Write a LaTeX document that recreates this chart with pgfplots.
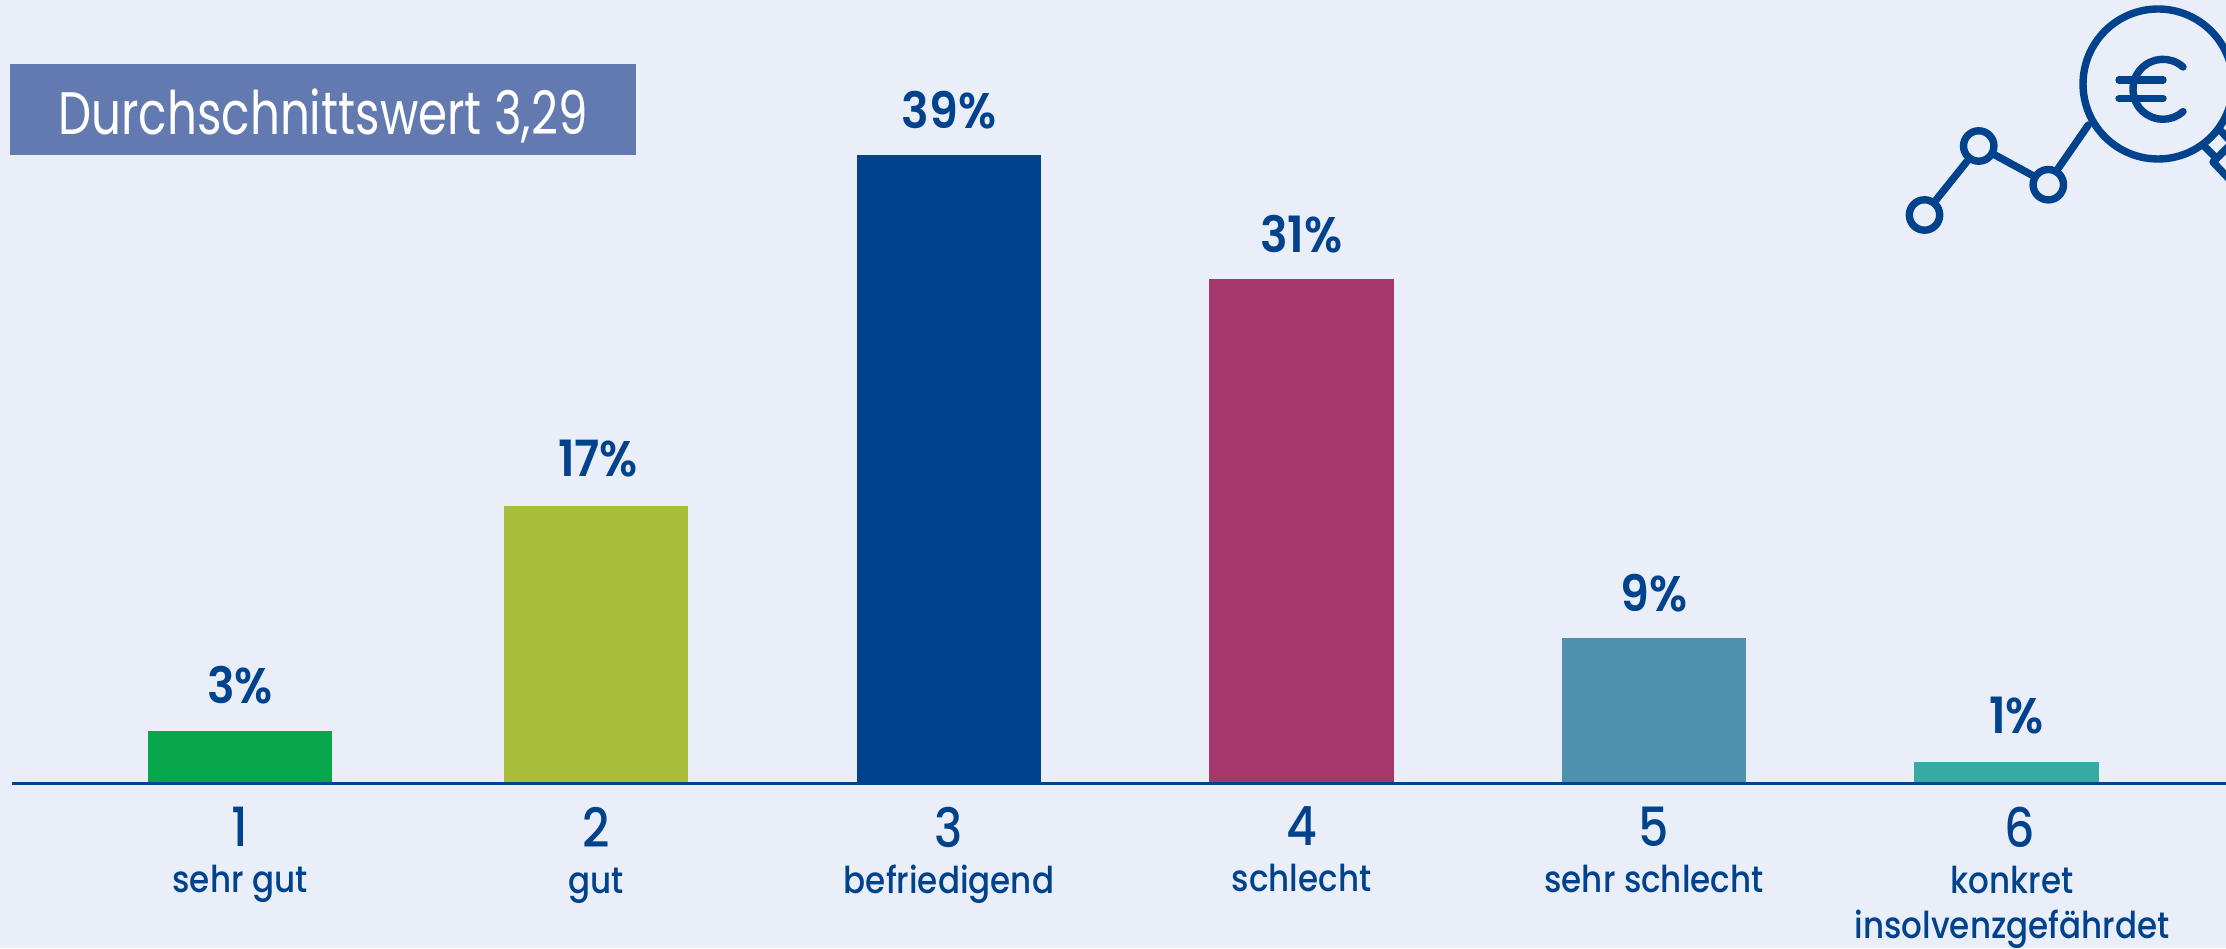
\documentclass[border=0pt]{standalone}
\usepackage{pgfplots}
\pgfplotsset{compat=1.18}
\usepackage{fontspec}
\setmainfont{Poppins}[FakeStretch=0.78]
\newfontfamily\medf{Poppins Medium}[FakeStretch=0.88]
\newfontfamily\semif{Poppins SemiBold}[FakeStretch=0.92]
\definecolor{bg}{HTML}{E9EEF8}
\definecolor{navy}{HTML}{00438C}
\definecolor{boxc}{HTML}{637AB0}
\definecolor{c1}{HTML}{07A64A}
\definecolor{c2}{HTML}{A8BE3A}
\definecolor{c3}{HTML}{00438C}
\definecolor{c4}{HTML}{A4386D}
\definecolor{c5}{HTML}{4F8FAF}
\definecolor{c6}{HTML}{38AAA6}
\newcommand{\dg}[1]{{\fontsize{27}{27}\selectfont #1}}
\begin{document}
\begin{tikzpicture}
\path[use as bounding box,fill=bg] (0,0) rectangle (1113pt,474pt);
\clip (0,0) rectangle (1113pt,474pt);
\begin{axis}[
  at={(6pt,82.5pt)},anchor=south west,scale only axis,width=1107pt,height=391.5pt,
  xmin=12,xmax=2226,ymin=0,ymax=48.63,
  axis line style={draw=none},
  ytick=\empty,
  xtick={240,596,949,1301.5,1654,2006.5},
  xticklabels={{\dg{1}\\[-1pt]sehr gut},{\dg{2}\\[-1pt]gut},{\dg{3}\\[-1pt]befriedigend},{\dg{4}\\[-1pt]schlecht},{\dg{5}\\[-1pt]sehr schlecht},{\hspace*{12.8pt}\dg{6}\\[-1pt]\hspace*{5.6pt}konkret\\[-1.5pt]\hspace*{5.6pt}insolvenzgefährdet}},
  major tick length=0pt,
  xticklabel style={align=center,anchor=north,text=navy,font=\fontsize{18.5}{24}\selectfont\medf,yshift=-8.5pt},
  ybar,bar width=92.25pt,bar shift=0pt,
  nodes near coords style={text=navy,font=\fontsize{25}{25}\selectfont\semif,anchor=south,yshift=9.5pt},
  clip=false,
]
\addplot[draw=none,fill=c1,nodes near coords={3\%},every node near coord/.append style={yshift=0.5pt}] coordinates {(240,3.2)};
\addplot[draw=none,fill=c2,nodes near coords={17\%},every node near coord/.append style={xshift=1pt,yshift=1.5pt}] coordinates {(596,17.2)};
\addplot[draw=none,fill=c3,nodes near coords={39\%}] coordinates {(949,39)};
\addplot[draw=none,fill=c4,nodes near coords={31\%}] coordinates {(1301.5,31.3)};
\addplot[draw=none,fill=c5,nodes near coords={9\%}] coordinates {(1654,9)};
\addplot[draw=none,fill=c6,nodes near coords={1\%},every node near coord/.append style={xshift=5pt,yshift=1pt}] coordinates {(2006.5,1.3)};
\draw[navy,line width=1.5pt] (axis cs:12,0) -- (axis cs:2226,0);
\end{axis}
\begin{scope}[shift={(0,474pt)},x=0.5pt,y=-0.5pt]
\fill[boxc] (10,64) rectangle (636,155);
\node[text=white,font=\fontsize{30}{30}\selectfont,anchor=center] at (323,116) {Durchschnittswert 3,29};
\begin{scope}[navy,line width=3.7pt,line cap=round,line join=round]
\draw (1924.5,215) circle (15.2*0.5pt);
\draw (1978.7,146) circle (15.2*0.5pt);
\draw (2048.3,184.7) circle (15.2*0.5pt);
\draw (2158,84) circle (75*0.5pt);
\draw (1936,200) -- (1966.7,161.7);
\draw (1995,155) -- (2031.7,175);
\draw (2058.3,168.3) -- (2088.3,125);
\draw (2183,67) arc (-48:-312:30);
\draw (2119,80) -- (2163,80);
\draw (2119,98.7) -- (2163,98.7);
\draw (2205,147) -- (2215,157);
\draw (2228,147) -- (2213,162) -- (2230,180);
\draw (2221,131) -- (2230,141);
\end{scope}
\end{scope}
\end{tikzpicture}
\end{document}
